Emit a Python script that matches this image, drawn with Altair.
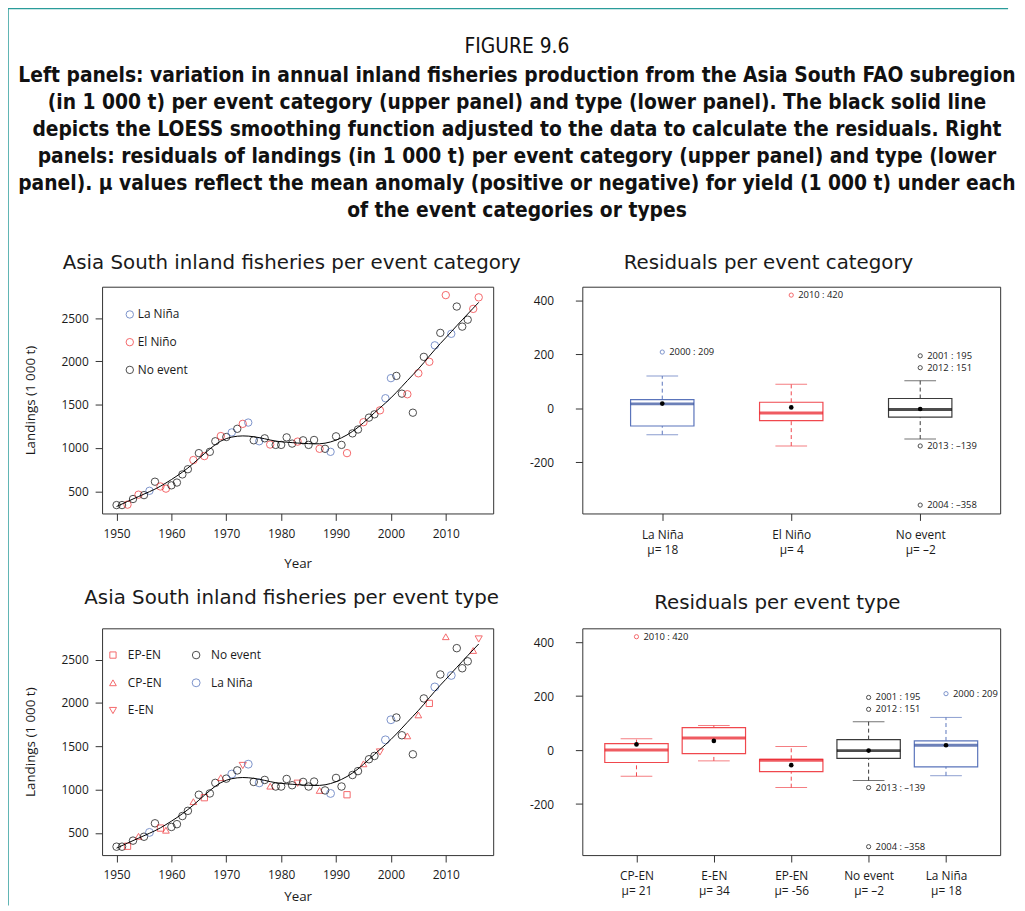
import altair as alt
import pandas as pd

# ---------------- data ----------------
years = list(range(1950, 2017))
landings = [340, 340, 345, 410, 460, 455, 505, 610, 555, 530,
            568, 600, 694, 754, 860, 940, 906, 955, 1077, 1137,
            1126, 1179, 1221, 1278, 1293, 1088, 1077, 1111, 1039, 1035,
            1035, 1122, 1050, 1073, 1088, 1035, 1092, 990, 990, 955,
            1134, 1035, 940, 1168, 1213, 1297, 1350, 1388, 1434, 1574,
            1806, 1832, 1627, 1620, 1407, 1862, 2052, 1995, 2185, 2329,
            2765, 2318, 2633, 2401, 2481, 2606, 2739]
event_type = ["No event", "No event", "EP-EN", "No event", "CP-EN", "No event", "La Niña", "No event", "EP-EN", "CP-EN",
              "No event", "No event", "No event", "No event", "CP-EN", "No event", "EP-EN", "No event", "No event", "CP-EN",
              "No event", "La Niña", "No event", "E-EN", "La Niña", "No event", "La Niña", "No event", "CP-EN", "No event",
              "No event", "No event", "No event", "E-EN", "No event", "No event", "No event", "CP-EN", "No event", "La Niña",
              "No event", "No event", "EP-EN", "No event", "No event", "CP-EN", "No event", "No event", "E-EN", "La Niña",
              "La Niña", "No event", "No event", "CP-EN", "No event", "CP-EN", "No event", "EP-EN", "La Niña", "No event",
              "CP-EN", "La Niña", "No event", "No event", "No event", "CP-EN", "E-EN"]
type_to_category = {"EP-EN": "El Niño", "CP-EN": "El Niño", "E-EN": "El Niño",
                    "No event": "No event", "La Niña": "La Niña"}

year_ticks = [1950, 1960, 1970, 1980, 1990, 2000, 2010]
landing_ticks = [500, 1000, 1500, 2000, 2500]
resid_ticks = [-200, 0, 200, 400]

# residual box statistics, per event category
cat_names = ["La Niña", "El Niño", "No event"]
cat_mu = ["μ= 18", "μ= 4", "μ= –2"]
cat_lo = [-97, -139, -113]
cat_q1 = [-65, -45, -32]
cat_med = [17, -17, -4]
cat_q3 = [33, 23, 37]
cat_hi = [120, 90, 103]
cat_mean = [18, 4, -2]
cat_out_group = ["La Niña", "El Niño", "No event", "No event", "No event", "No event"]
cat_out_value = [209, 420, 195, 151, -139, -358]
cat_out_label = ["2000 : 209", "2010 : 420", "2001 : 195", "2012 : 151", "2013 : –139", "2004 : –358"]

# residual box statistics, per event type
typ_names = ["CP-EN", "E-EN", "EP-EN", "No event", "La Niña"]
typ_mu = ["μ= 21", "μ= 34", "μ= -56", "μ= –2", "μ= 18"]
typ_lo = [-97, -40, -139, -113, -95]
typ_q1 = [-46, -13, -80, -31, -62]
typ_med = [0, 45, -38, -2, 18]
typ_q3 = [24, 83, -34, 39, 34]
typ_hi = [42, 91, 13, 105, 121]
typ_mean = [21, 34, -56, -2, 18]
typ_out_group = ["CP-EN", "No event", "No event", "No event", "No event", "La Niña"]
typ_out_value = [420, 195, 151, -139, -358, 209]
typ_out_label = ["2010 : 420", "2001 : 195", "2012 : 151", "2013 : –139", "2004 : –358", "2000 : 209"]

header_title = "FIGURE 9.6"
header_lines = [
    "Left panels: variation in annual inland fisheries production from the Asia South FAO subregion",
    "(in 1 000 t) per event category (upper panel) and type (lower panel). The black solid line",
    "depicts the LOESS smoothing function adjusted to the data to calculate the residuals. Right",
    "panels: residuals of landings (in 1 000 t) per event category (upper panel) and type (lower",
    "panel). μ values reflect the mean anomaly (positive or negative) for yield (1 000 t) under each",
    "of the event categories or types",
]

# ---------------- styles ----------------
FONT = "Open Sans"
TFONT = "DejaVu Sans"
HFONT = "DejaVu Sans Condensed, Liberation Sans Narrow, Open Sans"
INK = "#1a1a1a"
RED = "#f0282d"
BLUE = "#4565b5"
BLACK = "#000000"
TEAL = "#2a9c9a"

cat_colors = {"La Niña": BLUE, "El Niño": RED, "No event": BLACK}
type_colors = {"EP-EN": RED, "CP-EN": RED, "E-EN": RED, "No event": BLACK, "La Niña": BLUE}
box_line = {"La Niña": "#5a74bb", "El Niño": "#f0474d", "No event": "#3a3a3a",
            "CP-EN": "#f0474d", "E-EN": "#f0474d", "EP-EN": "#f0474d"}
box_med = {"La Niña": "#2d4a9a", "El Niño": "#e8161e", "No event": "#000000",
           "CP-EN": "#e8161e", "E-EN": "#e8161e", "EP-EN": "#e8161e"}

# legend order (filled column by column: 3 rows x 2 columns)
legend_type_order = ["EP-EN", "CP-EN", "E-EN", "No event", "La Niña"]
type_shapes = {"EP-EN": "square", "No event": "circle", "CP-EN": "triangle-up",
               "La Niña": "circle", "E-EN": "triangle-down"}
type_sizes = {"EP-EN": 40, "No event": 36, "CP-EN": 64, "La Niña": 36, "E-EN": 64}

df = pd.DataFrame({"year": years, "landings": landings, "type": event_type})
df["category"] = df["type"].map(type_to_category)

PW_L, PW_R, PH = 395, 422, 229

xs = alt.Scale(domain=[1947.36, 2018.64], nice=False, zero=False)
ys = alt.Scale(domain=[243, 2862], nice=False, zero=False)


def x_left(title_y):
    return alt.X("year:Q", scale=xs,
                 axis=alt.Axis(values=year_ticks, format="d", title="Year", domain=False, grid=False,
                               tickSize=7, labelPadding=8, titleY=title_y, titleBaseline="middle"))


y_left = alt.Y("landings:Q", scale=ys,
               axis=alt.Axis(values=landing_ticks, format="d", title="Landings (1 000 t)", domain=False,
                             grid=False, tickSize=7, labelPadding=7, titleX=-72, titleBaseline="middle",
                             titleAlign="center"))


def panel_title(text, dx, offset):
    return alt.TitleParams(text=text, font=TFONT, fontSize=20, fontWeight="normal", color=INK,
                           anchor="middle", frame="group", dx=dx, offset=offset)


# top-left: per event category
xl1 = x_left(51)
pts_cat = alt.Chart(df).mark_point(filled=False, strokeWidth=1, size=56).encode(
    x=xl1, y=y_left,
    color=alt.Color("category:N",
                    scale=alt.Scale(domain=cat_names, range=[cat_colors[c] for c in cat_names]),
                    legend=alt.Legend(orient="none", legendX=22, legendY=22, title=None, padding=0,
                                      symbolType="circle", symbolSize=56, symbolStrokeWidth=1,
                                      labelFontSize=12, labelOffset=2, rowPadding=16,
                                      labelFont=FONT, labelColor=INK)))
loess_1 = alt.Chart(df).transform_loess("year", "landings", bandwidth=0.25).mark_line(
    color="black", strokeWidth=1).encode(x=xl1, y=y_left)
top_left = alt.layer(pts_cat, loess_1).properties(
    width=PW_L, height=PH, title=panel_title("Asia South inland fisheries per event category", -6, 14))

# bottom-left: per event type
xl2 = x_left(42)
tleg = alt.Legend(orient="none", legendX=5, legendY=21, title=None, padding=0, columns=2,
                  symbolStrokeWidth=1, labelFontSize=12, labelOffset=9, rowPadding=16,
                  columnPadding=28, labelFont=FONT, labelColor=INK)
pts_type = alt.Chart(df).mark_point(filled=False, strokeWidth=1).encode(
    x=xl2, y=y_left,
    color=alt.Color("type:N", scale=alt.Scale(domain=legend_type_order,
                                              range=[type_colors[t] for t in legend_type_order]),
                    legend=tleg),
    shape=alt.Shape("type:N", scale=alt.Scale(domain=legend_type_order,
                                              range=[type_shapes[t] for t in legend_type_order]),
                    legend=tleg),
    size=alt.Size("type:N", scale=alt.Scale(domain=legend_type_order,
                                            range=[type_sizes[t] for t in legend_type_order]),
                  legend=tleg))
loess_2 = alt.Chart(df).transform_loess("year", "landings", bandwidth=0.25).mark_line(
    color="black", strokeWidth=1).encode(x=xl2, y=y_left)
bottom_left = alt.layer(pts_type, loess_2).properties(
    width=PW_L, height=PH, title=panel_title("Asia South inland fisheries per event type", -6, 21))


def label_expr(names, mus):
    expr = "''"
    for n, m in zip(reversed(names), reversed(mus)):
        expr = f"datum.value == '{n}' ? ['{n}', '{m}'] : ({expr})"
    return expr


def box_panel(names, mus, lo, q1, med, q3, hi, mean, og, ov, ol, pad, title, dx, offset):
    st = pd.DataFrame({"g": names, "lo": lo, "q1": q1, "med": med, "q3": q3, "hi": hi, "mean": mean})
    st["line"] = st["g"].map(box_line)
    st["medc"] = st["g"].map(box_med)
    ot = pd.DataFrame({"g": og, "v": ov, "lab": ol})
    ot["c"] = ot["g"].map(cat_colors | type_colors)

    x = alt.X("g:N", scale=alt.Scale(type="point", domain=names, padding=pad),
              axis=alt.Axis(title=None, labelExpr=label_expr(names, mus), labelAngle=0, domain=False,
                            tickSize=7, labelPadding=9, labelLineHeight=15, labelBaseline="top"))
    yscale = alt.Scale(domain=[-389.1, 451.1], nice=False, zero=False)

    def Y(f):
        return alt.Y(f + ":Q", scale=yscale,
                     axis=alt.Axis(values=resid_ticks, labelExpr="datum.value + ''", title=None,
                                   domain=False, grid=False, tickSize=7, labelPadding=22))

    base = alt.Chart(st)
    lc = alt.Color("line:N", scale=None)
    w_up = base.mark_rule(strokeDash=[4, 3], strokeWidth=1).encode(x=x, y=Y("q3"), y2="hi:Q", color=lc)
    w_lo = base.mark_rule(strokeDash=[4, 3], strokeWidth=1).encode(x=x, y=Y("lo"), y2="q1:Q", color=lc)
    cap_hi = base.mark_tick(size=32, thickness=1).encode(x=x, y=Y("hi"), color=lc)
    cap_lo = base.mark_tick(size=32, thickness=1).encode(x=x, y=Y("lo"), color=lc)
    box = base.mark_bar(size=64, filled=False, strokeWidth=1.2).encode(x=x, y=Y("q1"), y2="q3:Q", color=lc)
    medl = base.mark_tick(size=64, thickness=3).encode(x=x, y=Y("med"), color=alt.Color("medc:N", scale=None))
    mn = base.mark_point(filled=True, size=22, color="black", opacity=1).encode(x=x, y=Y("mean"))
    oc = alt.Chart(ot)
    opt = oc.mark_point(filled=False, size=18, strokeWidth=1).encode(
        x=x, y=Y("v"), color=alt.Color("c:N", scale=None))
    otx = oc.mark_text(align="left", baseline="middle", dx=7, fontSize=9.5, font=FONT, color=INK).encode(
        x=x, y=Y("v"), text="lab:N")
    return alt.layer(w_up, w_lo, cap_hi, cap_lo, box, medl, mn, opt, otx).properties(
        width=PW_R, height=PH, title=panel_title(title, dx, offset))


top_right = box_panel(cat_names, cat_mu, cat_lo, cat_q1, cat_med, cat_q3, cat_hi, cat_mean,
                      cat_out_group, cat_out_value, cat_out_label, 0.62,
                      "Residuals per event category", -23, 14)
bottom_right = box_panel(typ_names, typ_mu, typ_lo, typ_q1, typ_med, typ_q3, typ_hi, typ_mean,
                         typ_out_group, typ_out_value, typ_out_label, 0.7,
                         "Residuals per event type", -14, 16)

# header (figure caption) as title of a tiny empty cell
header = alt.Chart(pd.DataFrame({"t": [""]})).mark_text().encode(text="t:N").properties(
    width=PW_L, height=1,
    view=alt.ViewBackground(stroke="transparent"),
    title=alt.TitleParams(text=header_title, subtitle=header_lines, font=HFONT, fontSize=21,
                          fontWeight="normal", color="#111111", subtitleFont=HFONT, subtitleFontSize=21,
                          subtitleFontWeight="bold", subtitleColor="#111111", subtitleLineHeight=27.3,
                          subtitlePadding=8, anchor="middle", frame="group", dx=221.5, offset=-56))

# page frame (teal border) drawn from an empty companion cell
frame_df = pd.DataFrame({"k": [0]})
frame_top = alt.Chart(frame_df).mark_rule(color=TEAL, strokeWidth=1.5).encode(
    x=alt.value(-580), x2=alt.value(430), y=alt.value(-164))
frame_left = alt.Chart(frame_df).mark_rule(color=TEAL, strokeWidth=1.5).encode(
    x=alt.value(-580), y=alt.value(-164), y2=alt.value(742))
frame_cell = alt.layer(frame_top, frame_left).properties(
    width=PW_R, height=1, view=alt.ViewBackground(stroke="transparent"))

chart = alt.concat(header, frame_cell, top_left, top_right, bottom_left, bottom_right,
                   columns=2, spacing={"row": 116, "column": 90}, bounds="flush").resolve_scale(
    color="independent", shape="independent", size="independent"
).resolve_legend(
    color="independent", shape="independent", size="independent"
).properties(
    padding={"left": -2, "top": -6, "right": 0, "bottom": 0}
).configure_view(stroke="#333333", strokeWidth=1).configure_axis(
    labelFont=FONT, titleFont=FONT, labelFontSize=12, titleFontSize=13.5, labelColor=INK,
    titleColor=INK, tickColor="#333333", titleFontWeight="normal"
)

chart.save("out.html", embed_options={"renderer": "svg", "actions": False})
